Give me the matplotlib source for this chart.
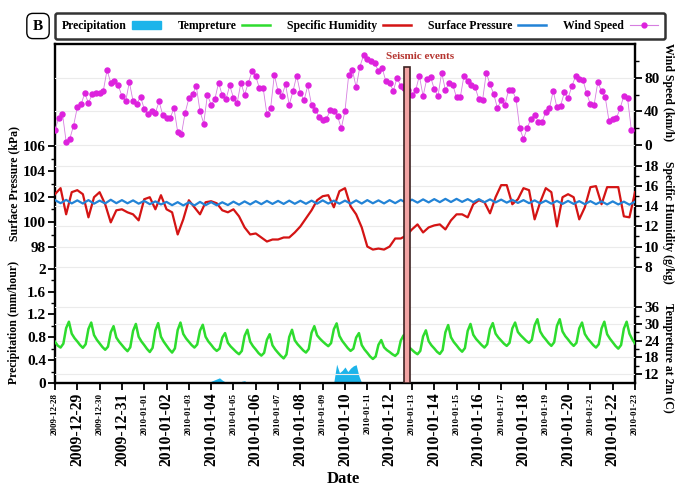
import matplotlib
matplotlib.use("Agg")
import matplotlib.pyplot as plt
import pandas as pd
from matplotlib.lines import Line2D
from matplotlib.patches import Patch

plt.rcParams['font.family'] = ['Liberation Serif', 'DejaVu Serif']
plt.rcParams['font.weight'] = 'bold'

# ---- data ----
# wind speed (km/h), every 4 hours from 2009-12-28 00:00
wind_speed = [
    18.3, 31.8, 37.4, 4.0, 7.6, 23.1, 44.6, 48.2, 61.3, 50.1,
    60.1, 62.1, 62.1, 64.5, 89.1, 74.0, 76.0, 71.2, 58.1, 51.7,
    74.8, 52.1, 49.0, 57.3, 43.0, 37.4, 40.2, 38.2, 51.7, 35.4,
    32.6, 32.2, 43.8, 15.5, 12.7, 38.2, 55.3, 60.5, 70.0, 40.2,
    25.5, 59.7, 47.8, 54.5, 74.0, 58.9, 54.5, 70.8, 56.1, 50.1,
    74.0, 59.7, 74.0, 87.6, 81.6, 67.3, 67.3, 36.6, 43.8, 83.6,
    63.7, 58.1, 72.0, 47.8, 63.7, 82.4, 61.7, 53.3, 70.8, 47.8,
    41.8, 33.8, 29.5, 30.6, 41.4, 40.6, 34.2, 19.9,
    40.6, 83.6, 89.1, 68.5, 93.1, 106.7, 102.7, 100.3, 97.5, 87.6,
    91.5, 75.6, 73.6, 64.5, 80.0, 70.0, 68.1, 64.9, 58.9, 64.9,
    82.4, 58.1, 78.8, 81.2, 66.5, 58.1, 86.0, 65.3, 73.6, 71.2,
    56.5, 56.5, 82.4, 75.6, 71.6, 68.5, 54.5, 53.3, 86.0, 72.0,
    60.5, 43.8, 53.3, 47.4, 65.3, 65.3, 54.5, 19.9, 7.2, 19.9,
    31.4, 35.8, 27.9, 27.5, 39.4, 43.8, 64.5, 44.6, 46.9, 62.5,
    55.7, 69.7, 81.6, 78.0, 77.6, 61.3, 48.5, 47.8, 74.8, 63.7,
    56.5, 28.7, 30.6, 31.8, 43.8, 58.5, 55.3, 18.3,
]

# specific humidity (g/kg), every 6 hours
humidity = [
    15.2, 15.8, 13.2, 15.4, 15.6, 15.2, 12.9, 14.9, 15.4, 14.2,
    12.4, 13.6, 13.7, 13.4, 13.2, 12.6, 14.7, 14.9, 13.7, 15.1,
    13.7, 13.4, 11.2, 12.7, 14.6, 13.9, 13.2, 14.4, 14.5, 14.3,
    13.6, 13.4, 13.7, 13.0, 11.9, 11.2, 11.3, 10.9, 10.5, 10.7,
    10.7, 10.9, 10.9, 11.4, 12.0, 12.8, 13.6, 14.6, 15.0, 15.1,
    13.9, 15.5,
    15.8, 14.0, 13.2, 11.9, 10.0, 9.7, 9.8, 9.7, 10.0, 10.8,
    10.8, 11.1, 11.7, 12.2, 11.4, 11.9, 12.1, 12.2, 11.7, 12.6,
    13.2, 13.2, 12.9, 14.2, 14.6, 14.4, 13.3, 14.9, 16.1, 16.1,
    14.2, 14.7, 15.8, 15.6, 12.7, 14.4, 15.8, 15.4, 12.0, 14.9,
    15.2, 14.9, 12.7, 13.9, 15.9, 16.0, 14.2, 15.9, 15.9, 15.9,
    13.0, 12.9, 15.4,
]

# surface pressure (kPa), every 6 hours
pressure = [
    101.72, 101.48, 101.74, 101.46, 101.70, 101.45, 101.72, 101.44,
    101.68, 101.46, 101.75, 101.48, 101.72, 101.47, 101.70, 101.44,
    101.66, 101.40, 101.62, 101.38, 101.58, 101.32, 101.56, 101.30,
    101.55, 101.30, 101.58, 101.32, 101.56, 101.31, 101.55, 101.33,
    101.60, 101.36, 101.62, 101.38, 101.64, 101.40, 101.66, 101.42,
    101.66, 101.42, 101.68, 101.43, 101.67, 101.43, 101.68, 101.44,
    101.70, 101.45, 101.68, 101.44, 101.68, 101.44, 101.70, 101.45,
    101.72, 101.47, 101.70, 101.46, 101.72, 101.48, 101.74, 101.50,
    101.76, 101.52, 101.78, 101.54, 101.80, 101.56, 101.82, 101.57,
    101.82, 101.58, 101.80, 101.56, 101.80, 101.55, 101.78, 101.54,
    101.76, 101.52, 101.74, 101.50, 101.72, 101.48, 101.70, 101.46,
    101.68, 101.44, 101.66, 101.42, 101.66, 101.42, 101.64, 101.40,
    101.64, 101.40, 101.62, 101.38, 101.62, 101.38, 101.60, 101.36,
    101.60,
]

# temperature at 2m (C), every 3 hours
temperature = [
    23.6, 22.2, 21.5, 22.9, 28.5, 30.8, 26.5, 24.9,
    23.7, 22.4, 21.4, 22.7, 28.2, 30.5, 26.0, 24.3,
    23.0, 21.7, 20.7, 21.8, 27.0, 29.2, 25.1, 23.6,
    22.4, 21.2, 20.2, 21.6, 27.5, 30.0, 25.4, 23.7,
    22.4, 21.0, 19.9, 21.4, 27.7, 30.3, 25.4, 23.6,
    22.2, 20.8, 19.7, 21.2, 27.8, 30.5, 26.4, 24.8,
    23.6, 22.4, 21.5, 22.6, 27.6, 29.7, 25.4, 23.7,
    22.5, 21.2, 20.3, 21.1, 25.1, 26.7, 23.2, 21.9,
    20.9, 19.9, 19.1, 20.3, 25.7, 27.9, 23.6, 22.0,
    20.8, 19.5, 18.6, 19.6, 24.3, 26.3, 22.3, 20.8,
    19.6, 18.5, 17.6, 19.0, 25.3, 27.9, 24.1, 22.7,
    21.6, 20.5, 19.7, 21.0, 26.8, 29.2, 25.9, 24.7,
    23.7, 22.8, 22.0, 23.1, 28.1, 30.2, 25.7, 23.9,
    22.6, 21.3, 20.3, 21.1, 25.1, 26.7, 22.4, 20.8,
    19.6, 18.3, 17.4, 18.3, 22.5, 24.2, 21.6, 20.6,
    19.9, 19.1, 18.5, 19.5, 24.0, 25.9, 22.8, 21.6,
    20.7, 19.8, 19.1, 20.3, 25.5, 27.7, 23.8, 22.3,
    21.2, 20.0, 19.2, 20.6, 27.0, 29.6, 25.2, 23.5,
    22.3, 21.0, 20.0, 21.3, 27.5, 30.0, 26.1, 24.6,
    23.5, 22.4, 21.5, 22.7, 28.1, 30.3, 26.5, 25.1,
    24.0, 22.9, 22.1, 23.2, 28.4, 30.5, 27.1, 25.9,
    24.9, 23.9, 23.2, 24.3, 29.5, 31.7, 27.3, 25.6,
    24.4, 23.1, 22.1, 23.4, 29.3, 31.7, 27.3, 25.6,
    24.4, 23.1, 22.1, 23.2, 28.4, 30.5, 26.4, 24.8,
    23.6, 22.4, 21.5, 22.7, 28.4, 30.8, 26.3, 24.7,
    23.4, 22.1, 21.1, 22.4, 28.3, 30.8, 26.5, 24.5,
    23.0,
]

# precipitation (mm/hour)
precip_time = [
    "2009-12-28 00:00", "2009-12-28 03:00", "2009-12-28 06:00",
    "2010-01-03 21:00", "2010-01-04 00:00", "2010-01-04 03:00", "2010-01-04 06:00",
    "2010-01-04 09:00", "2010-01-04 12:00", "2010-01-04 15:00", "2010-01-04 18:00",
    "2010-01-05 06:00", "2010-01-05 09:00", "2010-01-05 12:00", "2010-01-05 15:00",
    "2010-01-09 12:00", "2010-01-09 15:00", "2010-01-09 18:00", "2010-01-09 21:00",
    "2010-01-10 00:00", "2010-01-10 03:00", "2010-01-10 06:00", "2010-01-10 09:00",
    "2010-01-10 12:00", "2010-01-10 15:00", "2010-01-10 18:00",
    "2010-01-23 00:00",
]
precip = [
    0.01, 0.01, 0.0,
    0.0, 0.03, 0.05, 0.07, 0.09, 0.05, 0.02, 0.0,
    0.0, 0.03, 0.04, 0.0,
    0.02, 0.33, 0.18, 0.22, 0.28, 0.20, 0.26, 0.30, 0.32, 0.12, 0.0,
    0.0,
]

day_labels = ["2009-12-28", "2009-12-29", "2009-12-30", "2009-12-31",
              "2010-01-01", "2010-01-02", "2010-01-03", "2010-01-04",
              "2010-01-05", "2010-01-06", "2010-01-07", "2010-01-08",
              "2010-01-09", "2010-01-10", "2010-01-11", "2010-01-12",
              "2010-01-13", "2010-01-14", "2010-01-15", "2010-01-16",
              "2010-01-17", "2010-01-18", "2010-01-19", "2010-01-20",
              "2010-01-21", "2010-01-22", "2010-01-23"]

seismic_start = "2010-01-12 16:00"
seismic_end = "2010-01-12 22:00"

pres_ticks = [98, 100, 102, 104, 106]
precip_ticks = [0, 0.4, 0.8, 1.2, 1.6, 2]
precip_ticklabels = ["0", "0.4", "0.8", "1.2", "1.6", "2"]
wind_ticks = [0, 40, 80]
hum_ticks = [8, 10, 12, 14, 16, 18]
temp_ticks = [12, 18, 24, 30, 36]

# ---- time axes ----
t0 = pd.Timestamp("2009-12-28")
wind_time = pd.date_range(t0, periods=len(wind_speed), freq="4h")
hum_time = pd.date_range(t0, periods=len(humidity), freq="6h")
pres_time = pd.date_range(t0, periods=len(pressure), freq="6h")
temp_time = pd.date_range(t0, periods=len(temperature), freq="3h")
day_time = pd.date_range(t0, periods=len(day_labels), freq="D")

fig = plt.figure(figsize=(6.78, 4.87), dpi=100)
ax = fig.add_axes([0.0811, 0.2136, 0.8555, 0.6961])
ax_t = ax.twinx()
ax_h = ax.twinx()
ax_pr = ax.twinx()
ax_w = ax.twinx()

# precipitation
ax.fill_between(pd.to_datetime(precip_time), 0, precip, color='#1cb4ea', lw=0)
ax.set_ylim(0, 5.94)
ax.set_yticks(precip_ticks)
ax.set_yticklabels(precip_ticklabels)
ax.set_yticks([0.2, 0.6, 1.0, 1.4, 1.8], minor=True)

# temperature
ax_t.plot(temp_time, temperature, color='#2edc2e', lw=1.8)
ax_t.set_ylim(8.76, 130.7)
ax_t.set_yticks(temp_ticks)
ax_t.set_yticks([15, 21, 27, 33], minor=True)
ax_t.yaxis.grid(True, color='#ebebeb', lw=0.8)

# humidity
ax_h.plot(hum_time, humidity, color='#d41414', lw=1.6)
ax_h.set_ylim(-3.55, 30.12)
ax_h.set_yticks(hum_ticks)
ax_h.set_yticks([9, 11, 13, 15, 17], minor=True)
ax_h.yaxis.grid(True, color='#ebebeb', lw=0.8)

# pressure (left side)
ax_pr.plot(pres_time, pressure, color='#2283d6', lw=1.6)
ax_pr.set_ylim(87.27, 114.06)
ax_pr.yaxis.set_ticks_position('left')
ax_pr.set_yticks(pres_ticks)
ax_pr.set_yticks([99, 101, 103, 105], minor=True)

# wind speed
ax_w.plot(wind_time, wind_speed, color='#d67ee0', lw=0.6, marker='o', ms=3.6,
          mfc='#dd22dd', mec='#dd22dd')
ax_w.set_ylim(-283, 120.1)
ax_w.set_yticks(wind_ticks)
ax_w.set_yticks([20, 60, 100], minor=True)
ax_w.yaxis.grid(True, color='#ebebeb', lw=0.8)

# seismic event bar
ax_w.axvspan(pd.Timestamp(seismic_start), pd.Timestamp(seismic_end), ymin=0, ymax=0.932,
             fc='#f2a3a3', ec='#3c2222', lw=1.2, zorder=10)
ax_w.text(0.629, 0.962, "Seismic events", transform=ax_w.transAxes, ha='center',
          va='center', fontsize=8, color='#b5342f', zorder=11)

for a in (ax_t, ax_h, ax_pr, ax_w):
    for s in a.spines.values():
        s.set_visible(False)
for s in ax.spines.values():
    s.set_linewidth(1.7)

for a in (ax, ax_t, ax_h, ax_pr, ax_w):
    a.tick_params(axis='y', which='major', direction='out', length=5, width=1.3,
                  labelsize=11, pad=1.5)
    a.tick_params(axis='y', which='minor', direction='out', length=3, width=1.0)

ax.set_xlim(t0, pd.Timestamp("2010-01-23"))
ax.set_xticks(day_time)
ax.set_xticklabels(day_labels, rotation=90)
ax.tick_params(axis='x', direction='out', length=5, width=1.3, pad=2)
for i, lab in enumerate(ax.get_xticklabels()):
    lab.set_fontsize(11.3 if i % 2 else 6.5)

# axis titles
fig.text(14 / 678, 1 - 183 / 487, "Surface Pressure (kPa)", rotation=90,
         ha='center', va='center', fontsize=8.5)
fig.text(14 / 678, 1 - 322 / 487, "Precipitation (mm/hour)", rotation=90,
         ha='center', va='center', fontsize=8.5)
fig.text(668 / 678, 1 - 92 / 487, "Wind Speed (km/h)", rotation=270,
         ha='center', va='center', fontsize=8.5)
fig.text(668 / 678, 1 - 222 / 487, "Specific Humidity (g/kg)", rotation=270,
         ha='center', va='center', fontsize=8.5)
fig.text(668 / 678, 1 - 358 / 487, "Tempreture at 2m (C)", rotation=270,
         ha='center', va='center', fontsize=8.5)
fig.text(343 / 678, 1 - 479 / 487, "Date", ha='center', va='center', fontsize=12)

# panel letter
fig.text(38 / 678, 1 - 26 / 487, "B", ha='center', va='center', fontsize=11,
         bbox=dict(boxstyle='round,pad=0.4', fc='white', ec='black', lw=1.0))

# legend
handles = [Patch(color='#1cb4ea'),
           Line2D([], [], color='#2edc2e', lw=1.8),
           Line2D([], [], color='#d41414', lw=1.8),
           Line2D([], [], color='#2283d6', lw=1.8),
           Line2D([], [], color='#d67ee0', lw=0.8, marker='o', ms=3.5,
                  mfc='#dd22dd', mec='#dd22dd')]
labels = ["Precipitation", "Tempreture", "Specific Humidity", "Surface Pressure", "Wind Speed"]
leg = fig.legend(handles, labels, loc='center', ncol=5, markerfirst=False,
                 bbox_to_anchor=(0.531, 0.9465), fontsize=8.5, handlelength=2.4,
                 handletextpad=0.45, columnspacing=1.45, borderpad=0.6,
                 borderaxespad=0, fancybox=True, frameon=True)
leg.get_frame().set_edgecolor('black')
leg.get_frame().set_linewidth(1.8)

fig.savefig("out.png", dpi=100)
